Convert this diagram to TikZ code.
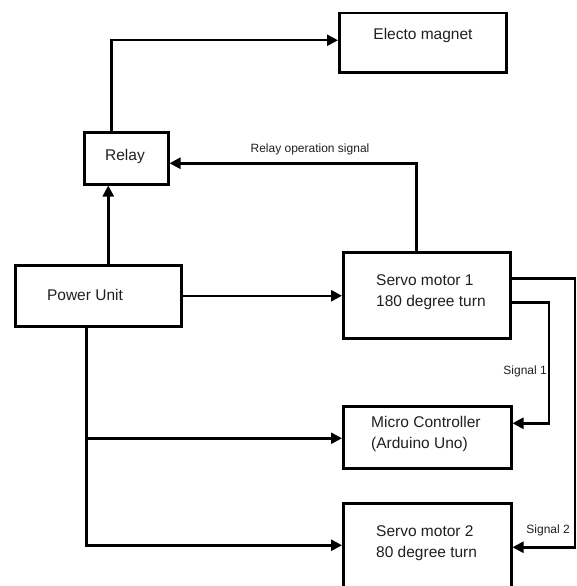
\documentclass[tikz,border=0pt]{standalone}
\usepackage{fontspec}
\setmainfont{Liberation Sans}
\usetikzlibrary{arrows.meta,calc}
\begin{document}
\begin{tikzpicture}[x=1pt,y=-1pt,
  box/.style={draw=black,line width=2.5pt,rectangle,inner sep=0pt,anchor=north west},
  txt/.style={inner sep=0pt,font=\fontsize{15.5}{21}\selectfont,align=left,text=black!88},
  lbl/.style={inner sep=0pt,font=\fontsize{12}{14}\selectfont,text=black!88},
  arr/.style={line width=2.5pt,-{Triangle[length=11pt,width=11pt]}}]
\useasboundingbox (0,0) rectangle (577,586);
% boxes
\node[box,minimum width=167pt,minimum height=59pt] (em) at (338,12) {};
\node[box,minimum width=84pt,minimum height=52pt] (relay) at (83,131) {};
\node[box,minimum width=166pt,minimum height=61pt] (pu) at (14,264) {};
\node[box,minimum width=167pt,minimum height=86pt] (s1) at (342,251) {};
\node[box,minimum width=168pt,minimum height=62pt] (mc) at (342,405) {};
\node[box,minimum width=168pt,minimum height=88pt] (s2) at (342,502) {};
% texts
\node[txt] (tem) at (423,35) {Electo magnet};
\node[txt] (trelay) at (125,156) {Relay};
\node[txt] (tpu) at (85,295) {Power Unit};
\node[txt,anchor=west] (ts1) at (376,292.5) {Servo motor 1\\180 degree turn};
\node[txt,anchor=west] (tmc) at (371,434) {Micro Controller\\(Arduino Uno)};
\node[txt,anchor=west] (ts2) at (376,543.5) {Servo motor 2\\80 degree turn};
% labels
\node[lbl] (lrel) at (310,149) {Relay operation signal};
\node[lbl,anchor=east] (ls1) at (547,371) {Signal 1};
\node[lbl,anchor=east] (ls2) at (570,530) {Signal 2};
% helper coordinates
\coordinate (c1) at (549,350);
\coordinate (c2) at (575,400);
% connectors
\draw[arr] ([xshift=-15pt]relay.north) |- ([yshift=2.5pt]em.west);
\draw[arr] ([xshift=-10.5pt]s1.north) |- ([yshift=-5pt]relay.east);
\draw[arr] ([xshift=10pt]pu.north) -- ([xshift=10pt]pu.north |- relay.south);
\draw[arr] (pu.east) -- (pu.east -| s1.west);
\draw[arr] ([xshift=-12pt]pu.south) |- ([yshift=-1pt]mc.west);
\draw[arr] ([xshift=-12pt]pu.south) |- ([yshift=2pt]s2.west);
\draw[arr] ([yshift=-7pt]s1.east) -| (c1) |- ([yshift=14pt]mc.east);
\draw[arr] ([yshift=17pt]s1.east) -| (c2) |- (s2.east);
\end{tikzpicture}
\end{document}
